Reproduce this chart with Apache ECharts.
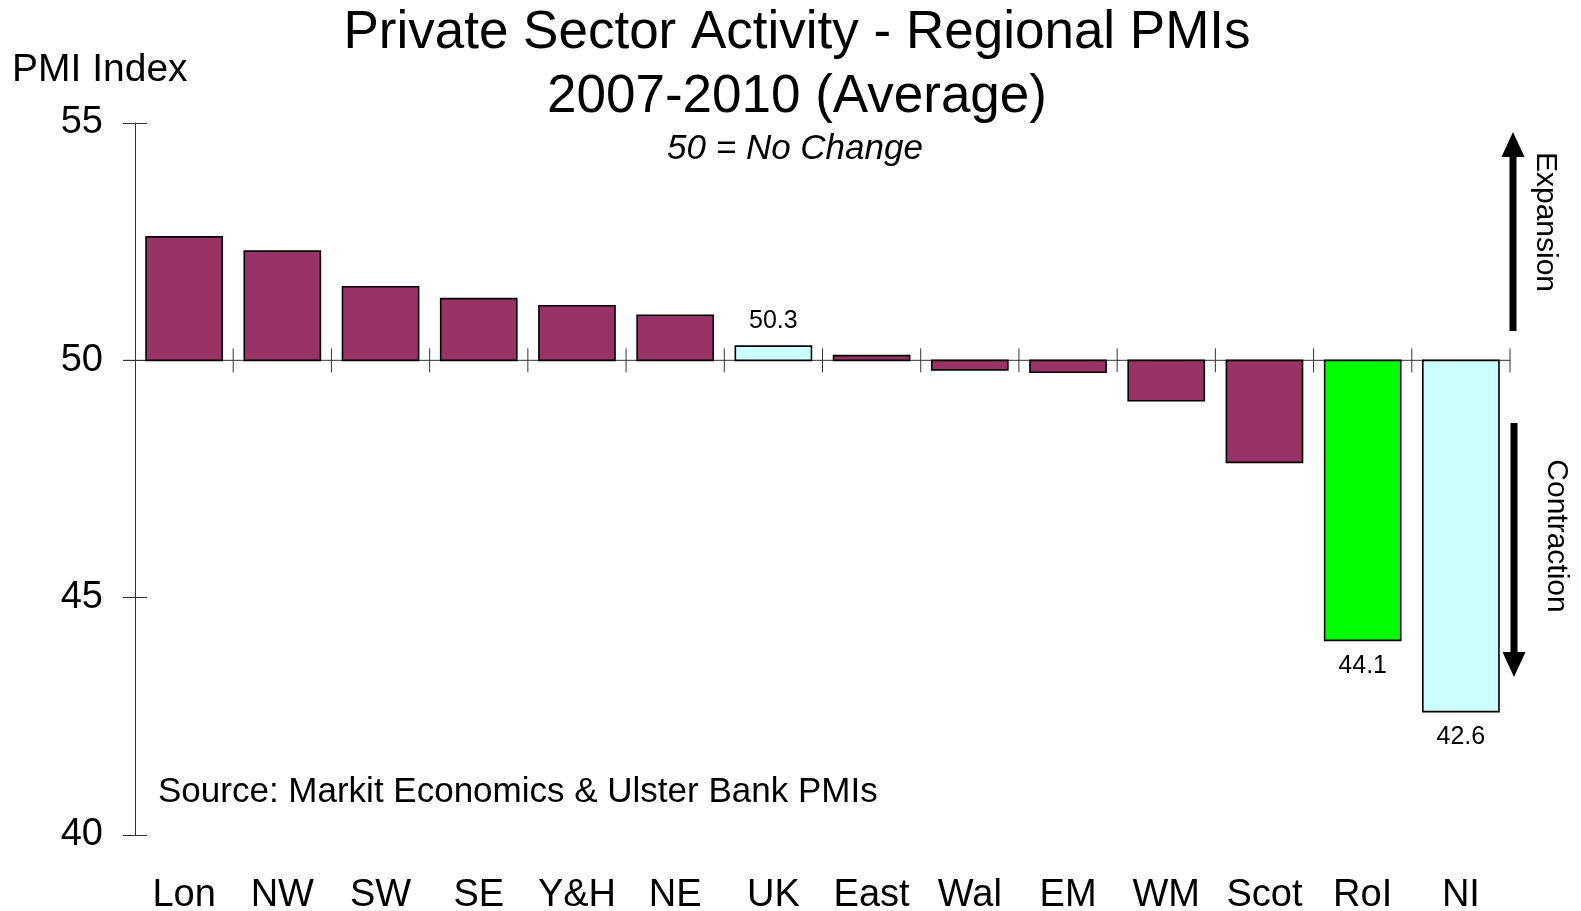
<!DOCTYPE html>
<html>
<head>
<meta charset="utf-8">
<title>Private Sector Activity - Regional PMIs</title>
<script src="https://cdn.jsdelivr.net/npm/echarts@6/dist/echarts.min.js"></script>
<style>
  html, body { margin: 0; padding: 0; background: #ffffff; }
  #chart { width: 1581px; height: 911px; }
</style>
</head>
<body>
<div id="chart"></div>
<script>
// Regional PMI averages, 2007-2010
const regions = ['Lon', 'NW', 'SW', 'SE', 'Y&H', 'NE', 'UK', 'East', 'Wal', 'EM', 'WM', 'Scot', 'RoI', 'NI'];
const pmiAverage = [52.6, 52.3, 51.55, 51.3, 51.15, 50.95, 50.3, 50.1, 49.8, 49.75, 49.15, 47.85, 44.1, 42.6];
const labelledRegions = ['UK', 'RoI', 'NI'];
const noChangeLevel = 50;
const yTicks = [40, 45, 50, 55];

const titleLines = ['Private Sector Activity - Regional PMIs', '2007-2010 (Average)'];
const subtitleText = '50 = No Change';
const yAxisTitle = 'PMI Index';
const sourceText = 'Source: Markit Economics & Ulster Bank PMIs';

// Fill colours: UK and NI highlighted in pale cyan, RoI in green
const FILL_DEFAULT = '#993366';
const FILL_SPECIAL = { 'UK': '#CCFFFF', 'NI': '#CCFFFF', 'RoI': '#00FF00' };
const FONT = '"Liberation Sans", Arial, Helvetica, sans-serif';

const chart = echarts.init(document.getElementById('chart'), null, { renderer: 'canvas' });

const seriesData = pmiAverage.map((v, i) => [i, v]);

function renderBar(params, api) {
  const i = api.value(0);
  const v = api.value(1);
  const name = regions[i];
  const base = api.coord([i, noChangeLevel]);
  const end = api.coord([i, v]);
  const band = api.size([1, 0])[0];
  const barW = band * 0.775;
  const yTop = Math.min(base[1], end[1]);
  const h = Math.abs(end[1] - base[1]);
  const children = [];

  // Reference line at 50 with crossing ticks at each category boundary
  if (i === 0) {
    const last = api.coord([regions.length - 1, noChangeLevel]);
    children.push({
      type: 'line',
      shape: { x1: base[0] - band / 2 - 12, y1: base[1], x2: last[0] + band / 2, y2: base[1] },
      style: { stroke: '#333333', lineWidth: 1 },
      z2: 1
    });
  }
  const bx = base[0] + band / 2;
  children.push({
    type: 'line',
    shape: { x1: bx, y1: base[1] - 12, x2: bx, y2: base[1] + 12 },
    style: { stroke: '#333333', lineWidth: 1 },
    z2: 1
  });

  children.push({
    type: 'rect',
    shape: { x: base[0] - barW / 2, y: yTop, width: barW, height: Math.max(h, 1) },
    style: { fill: FILL_SPECIAL[name] || FILL_DEFAULT, stroke: '#000000', lineWidth: 1.6 },
    z2: 5
  });

  if (labelledRegions.indexOf(name) >= 0) {
    const above = v >= noChangeLevel;
    children.push({
      type: 'text',
      x: base[0],
      y: above ? end[1] - 25 : end[1] + 26,
      style: {
        text: v.toFixed(1),
        font: '25px ' + FONT,
        fill: '#000000',
        align: 'center',
        verticalAlign: 'middle'
      },
      z2: 6
    });
  }
  return { type: 'group', children: children };
}

const option = {
  backgroundColor: '#ffffff',
  animation: false,
  title: [
    {
      text: titleLines.join('\n'),
      left: 792,
      top: -4,
      textAlign: 'center',
      textStyle: { fontFamily: FONT, fontSize: 53, fontWeight: 'normal', color: '#000000', lineHeight: 64 }
    },
    {
      text: subtitleText,
      left: 790,
      top: 124,
      textAlign: 'center',
      textStyle: { fontFamily: FONT, fontSize: 35, fontStyle: 'italic', fontWeight: 'normal', color: '#000000', lineHeight: 40 }
    }
  ],
  grid: { left: 135, top: 123, width: 1375, height: 712, containLabel: false, outerBoundsMode: 'none' },
  xAxis: {
    type: 'category',
    data: regions,
    axisLine: { show: false },
    axisTick: { show: false },
    axisLabel: { fontFamily: FONT, fontSize: 38, color: '#000000', margin: 42, interval: 0 },
    splitLine: { show: false }
  },
  yAxis: [
    {
      type: 'value',
      min: yTicks[0],
      max: yTicks[yTicks.length - 1],
      interval: 5,
      axisLine: { show: true, lineStyle: { color: '#333333', width: 1 } },
      axisTick: { show: true, length: 12, lineStyle: { color: '#333333', width: 1 } },
      axisLabel: { fontFamily: FONT, fontSize: 38, color: '#000000', margin: 32, padding: [8, 0, 0, 0] },
      splitLine: { show: false }
    },
    {
      type: 'value',
      position: 'left',
      min: yTicks[0],
      max: yTicks[yTicks.length - 1],
      interval: 5,
      axisLine: { show: false },
      axisTick: { show: true, inside: true, length: 12, lineStyle: { color: '#333333', width: 1 } },
      axisLabel: { show: false },
      splitLine: { show: false }
    }
  ],
  series: [
    {
      type: 'custom',
      name: 'PMI',
      renderItem: renderBar,
      encode: { x: 0, y: 1 },
      data: seriesData,
      clip: false
    }
  ],
  graphic: [
    {
      type: 'text',
      left: 12,
      top: 51,
      style: { text: yAxisTitle, font: '39px ' + FONT, fill: '#000000' }
    },
    {
      type: 'text',
      left: 158,
      top: 775,
      style: { text: sourceText, font: '35px ' + FONT, fill: '#000000' }
    },
    // Expansion arrow (pointing up)
    {
      type: 'line',
      shape: { x1: 1513, y1: 331, x2: 1513, y2: 152 },
      style: { stroke: '#000000', lineWidth: 7 }
    },
    {
      type: 'polygon',
      shape: { points: [[1513, 132], [1501.5, 157], [1524.5, 157]] },
      style: { fill: '#000000' }
    },
    {
      type: 'text',
      x: 1545,
      y: 222,
      rotation: -Math.PI / 2,
      style: { text: 'Expansion', font: '30px ' + FONT, fill: '#000000', align: 'center', verticalAlign: 'middle' }
    },
    // Contraction arrow (pointing down)
    {
      type: 'line',
      shape: { x1: 1514, y1: 423, x2: 1514, y2: 658 },
      style: { stroke: '#000000', lineWidth: 7 }
    },
    {
      type: 'polygon',
      shape: { points: [[1514, 677], [1502.5, 652], [1525.5, 652]] },
      style: { fill: '#000000' }
    },
    {
      type: 'text',
      x: 1556,
      y: 536,
      rotation: -Math.PI / 2,
      style: { text: 'Contraction', font: '30px ' + FONT, fill: '#000000', align: 'center', verticalAlign: 'middle' }
    }
  ]
};

chart.setOption(option);
</script>
</body>
</html>
